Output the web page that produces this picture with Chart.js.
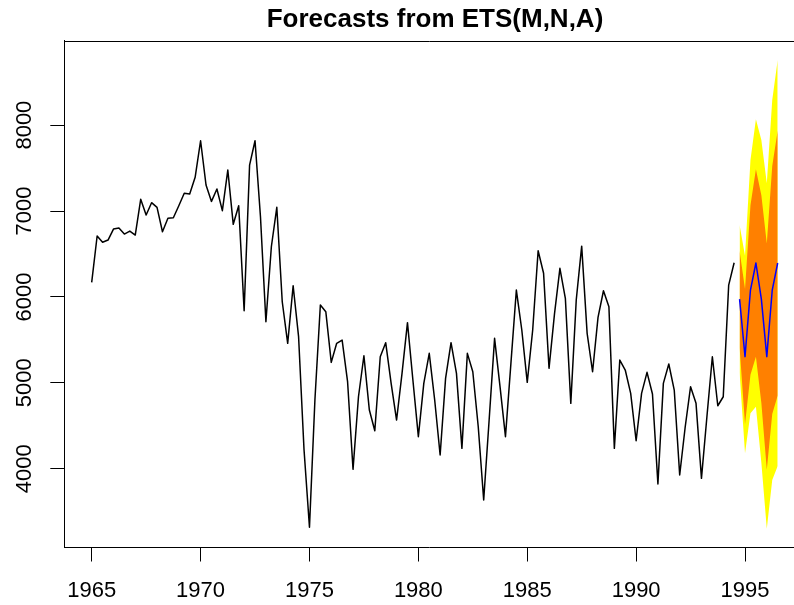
<!DOCTYPE html>
<html>
<head>
<meta charset="utf-8">
<script src="https://cdn.jsdelivr.net/npm/chart.js@4/dist/chart.umd.min.js"></script>
<style>
  html, body { margin: 0; padding: 0; background: #ffffff; }
  canvas { display: block; }
</style>
</head>
<body>
<canvas id="chart" width="794" height="605"></canvas>
<script>
// Quarterly series, first quarter of 1965 onwards
const startYear = 1965;
const observed = [
  6170, 6709, 6636, 6662, 6790, 6802, 6732, 6767, 6720, 7136,
  6953, 7097, 7043, 6759, 6915, 6922, 7062, 7206, 7198, 7392,
  7818, 7303, 7112, 7256, 7004, 7477, 6845, 7062, 5839, 7535,
  7818, 6934, 5711, 6584, 7043, 5944, 5460, 6130, 5537, 4220,
  3318, 4800, 5906, 5828, 5238, 5460, 5498, 5013, 3993, 4838,
  5315, 4683, 4442, 5304, 5467, 4994, 4567, 5110, 5700, 5030,
  4373, 4994, 5343, 4800, 4160, 5052, 5467, 5110, 4237, 5343,
  5129, 4489, 3636, 4567, 5518, 4955, 4373, 5227, 6080, 5615,
  5006, 5615, 6538, 6275, 5169, 5800, 6333, 5984, 4761, 5964,
  6591, 5576, 5129, 5762, 6072, 5886, 4237, 5265, 5149, 4877,
  4326, 4877, 5122, 4870, 3822, 4994, 5219, 4916, 3927, 4480,
  4955, 4761, 3888, 4605, 5304, 4733, 4838, 6138, 6398
];

// Eight quarters ahead: point forecasts and prediction intervals
const forecastMean = [5975, 5305, 6080, 6395, 5975, 5305, 6080, 6395];
const lower80 = [5412, 4519, 5093, 5303, 4766, 3988, 4636, 4852];
const upper80 = [6538, 6091, 7067, 7487, 7184, 6622, 7524, 7938];
const lower95 = [5120, 4179, 4645, 4722, 4070, 3300, 3868, 4032];
const upper95 = [6837, 6480, 7594, 8067, 7826, 7322, 8292, 8758];

const xTickValues = [1965, 1970, 1975, 1980, 1985, 1990, 1995];
const yTickValues = [4000, 5000, 6000, 7000, 8000];
const chartTitle = 'Forecasts from ETS(M,N,A)';

const FONT = '"Liberation Sans", Arial, Helvetica, sans-serif';

const toPoints = (values, t0) => values.map((v, i) => ({ x: t0 + i / 4, y: v }));
const forecastStart = startYear + observed.length / 4;

// Plot box top edge, rotated y labels and the main title
const boxAndLabels = {
  id: 'boxAndLabels',
  afterDraw(chart) {
    const { ctx, chartArea, scales } = chart;
    ctx.save();
    ctx.strokeStyle = '#000000';
    ctx.lineWidth = 1;
    const top = Math.round(chartArea.top) + 0.5;
    ctx.beginPath();
    ctx.moveTo(Math.round(chartArea.left) + 0.5, top);
    ctx.lineTo(chart.width, top);
    ctx.stroke();

    ctx.fillStyle = '#000000';
    ctx.textAlign = 'center';
    ctx.textBaseline = 'middle';
    ctx.font = '22px ' + FONT;
    scales.y.ticks.forEach(t => {
      const py = scales.y.getPixelForValue(t.value);
      ctx.save();
      ctx.translate(24.5, py);
      ctx.rotate(-Math.PI / 2);
      ctx.fillText(String(t.value), 0, 0);
      ctx.restore();
    });

    ctx.font = 'bold 26px ' + FONT;
    ctx.fillText(chartTitle, 435, 20);
    ctx.restore();
  }
};

const band = (values, color, fillTarget, order) => ({
  data: toPoints(values, forecastStart),
  borderWidth: 0,
  borderColor: 'rgba(0,0,0,0)',
  backgroundColor: color,
  pointRadius: 0,
  fill: fillTarget,
  order: order
});

new Chart(document.getElementById('chart'), {
  type: 'line',
  data: {
    datasets: [
      band(lower95, '#FFFF00', false, 3),
      band(upper95, '#FFFF00', 0, 3),
      band(lower80, '#FF8000', false, 2),
      band(upper80, '#FF8000', 2, 2),
      {
        data: toPoints(observed, startYear),
        borderColor: '#000000',
        borderWidth: 1.5,
        pointRadius: 0,
        fill: false,
        borderJoinStyle: 'round',
        order: 0
      },
      {
        data: toPoints(forecastMean, forecastStart),
        borderColor: '#0000FF',
        borderWidth: 1.5,
        pointRadius: 0,
        fill: false,
        borderJoinStyle: 'round',
        order: 1
      }
    ]
  },
  options: {
    responsive: false,
    animation: false,
    devicePixelRatio: 1,
    layout: { padding: { left: 0, top: 40.5, right: 0, bottom: 0 } },
    plugins: {
      legend: { display: false },
      tooltip: { enabled: false },
      title: { display: false }
    },
    elements: { line: { tension: 0 } },
    scales: {
      x: {
        type: 'linear',
        min: 1963.742,
        max: 1997.249,
        afterBuildTicks: s => { s.ticks = xTickValues.map(v => ({ value: v })); },
        afterFit: s => { s.height = 57.5; },
        grid: {
          drawOnChartArea: false,
          drawTicks: true,
          tickLength: 14,
          color: '#000000',
          lineWidth: 1
        },
        border: { display: true, color: '#000000', width: 1 },
        ticks: {
          color: '#000000',
          font: { family: FONT, size: 22 },
          padding: 16,
          maxRotation: 0,
          autoSkip: false,
          callback: v => String(v)
        }
      },
      y: {
        type: 'linear',
        min: 3083,
        max: 8985,
        afterBuildTicks: s => { s.ticks = yTickValues.map(v => ({ value: v })); },
        afterFit: s => { s.width = 64.3; },
        grid: {
          drawOnChartArea: false,
          drawTicks: true,
          tickLength: 14,
          color: '#000000',
          lineWidth: 1
        },
        border: { display: true, color: '#000000', width: 1 },
        ticks: { display: false }
      }
    }
  },
  plugins: [boxAndLabels]
});
</script>
</body>
</html>
